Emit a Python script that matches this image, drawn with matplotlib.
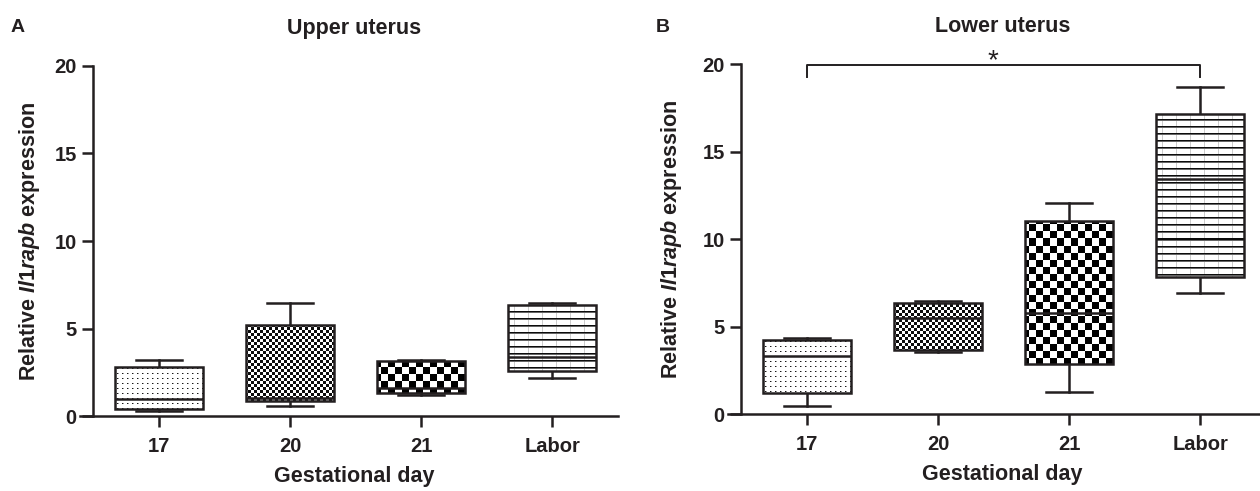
import numpy as np
import matplotlib
matplotlib.use('Agg')
import matplotlib.pyplot as plt

plt.rcParams['font.family'] = ['Liberation Sans', 'DejaVu Sans']
plt.rcParams['mathtext.fontset'] = 'custom'
plt.rcParams['mathtext.it'] = 'Liberation Sans:italic:bold'
plt.rcParams['mathtext.rm'] = 'Liberation Sans:bold'

ink = '#231f20'

# данные
days = ['17', '20', '21', 'Labor']

upper_whislo = [0.30, 0.60, 1.20, 2.19]
upper_q1 = [0.38, 0.86, 1.30, 2.59]
upper_med = [0.97, 1.04, 1.58, 3.35]
upper_q3 = [2.82, 5.20, 3.16, 6.34]
upper_whishi = [3.20, 6.44, 3.20, 6.44]

lower_whislo = [0.50, 3.58, 1.26, 6.95]
lower_q1 = [1.20, 3.68, 2.88, 7.83]
lower_med = [3.35, 5.49, 5.81, 13.45]
lower_q3 = [4.25, 6.38, 11.05, 17.16]
lower_whishi = [4.34, 6.50, 12.06, 18.72]

patterns = ['dots', 'fine', 'coarse', 'lines']


def make_pattern(kind, h, w):
    yy, xx = np.mgrid[0:h, 0:w]
    arr = np.zeros((h, w))
    if kind == 'dots':
        arr[(yy % 5 == 2) & (xx % 5 == 2)] = 0.9
        arr[(yy % 5 == 2) & (xx % 5 == 3)] = 0.4
    elif kind == 'fine':
        arr[((xx // 3 + yy // 3) % 2) == 0] = 0.95
    elif kind == 'coarse':
        arr[((xx // 7 + yy // 7) % 2) == 0] = 1.0
    elif kind == 'lines':
        arr[xx % 14 == 0] = 0.2
        arr[yy % 7 == 0] = 0.95
        arr[yy % 7 == 1] = 0.6
    return arr


def panel(ax, whislo, q1, med, q3, whishi, title, ylab_x):
    stats = []
    for i in range(len(days)):
        stats.append(dict(whislo=whislo[i], q1=q1[i], med=med[i], q3=q3[i],
                          whishi=whishi[i], fliers=[]))
    res = ax.bxp(stats, positions=range(len(days)), widths=0.67, capwidths=0.35,
                 patch_artist=True, showfliers=False,
                 boxprops=dict(facecolor='none', edgecolor=ink, linewidth=1.8),
                 medianprops=dict(color=ink, linewidth=1.8),
                 whiskerprops=dict(color=ink, linewidth=1.8),
                 capprops=dict(color=ink, linewidth=1.8))
    for b in res['boxes']:
        b.set_zorder(3)
    for m in res['medians']:
        m.set_zorder(4)
    ax.set_xlim(-0.6, 3.5)
    ax.set_ylim(0, 20)
    # заливка узором внутри каждого ящика
    w = int(round(ax.bbox.width))
    h = int(round(ax.bbox.height))
    for b, kind in zip(res['boxes'], patterns):
        im = ax.imshow(make_pattern(kind, h, w), cmap='gray_r', vmin=0, vmax=1,
                       extent=[-0.6, 3.5, 0, 20], origin='upper', aspect='auto',
                       interpolation='nearest', zorder=2)
        im.set_clip_path(b)
    ax.set_xlim(-0.6, 3.5)
    ax.set_ylim(0, 20)

    ax.spines['top'].set_visible(False)
    ax.spines['right'].set_visible(False)
    ax.spines['left'].set_position(('data', -0.5))
    for s in ['left', 'bottom']:
        ax.spines[s].set_linewidth(1.8)
        ax.spines[s].set_color(ink)
    ax.set_xticks(range(len(days)))
    ax.set_xticklabels(days)
    ax.set_yticks([0, 5, 10, 15, 20])
    ax.tick_params(axis='both', colors=ink, width=1.8, length=8, labelsize=14.5)
    ax.tick_params(axis='x', pad=7)
    ax.tick_params(axis='y', pad=4)
    for t in ax.get_xticklabels() + ax.get_yticklabels():
        t.set_fontweight('bold')
    ax.set_xlabel('Gestational day', fontsize=15.5, fontweight='bold', color=ink)
    ax.xaxis.set_label_coords(0.51, -0.142)
    ax.set_ylabel(r'Relative $\mathit{Il1rapb}$ expression', fontsize=15.5,
                  fontweight='bold', color=ink)
    ax.yaxis.set_label_coords(ylab_x, 0.5)
    ax.set_title(title, fontsize=15.5, fontweight='bold', color=ink, pad=23, x=0.51)
    return res


fig = plt.figure(figsize=(12.6, 4.91), dpi=100)
axA = fig.add_axes([0.0638, 0.1527, 0.4266, 0.7129])
axB = fig.add_axes([0.578, 0.1562, 0.4266, 0.7129])

panel(axA, upper_whislo, upper_q1, upper_med, upper_q3, upper_whishi, 'Upper uterus', -0.072)
panel(axB, lower_whislo, lower_q1, lower_med, lower_q3, lower_whishi, 'Lower uterus', -0.083)

# скобка значимости 17 vs Labor
axB.plot([0, 0, 3, 3], [19.3, 19.96, 19.96, 19.3], color=ink, linewidth=1.4, clip_on=False)
axB.text(1.42, 19.75, '*', ha='center', va='baseline', fontsize=20, color=ink)

fig.text(0.014, 0.935, 'A', fontsize=14, fontweight='bold', color=ink, va='baseline', ha='center')
fig.text(0.526, 0.935, 'B', fontsize=14, fontweight='bold', color=ink, va='baseline', ha='center')

fig.savefig('out.png', dpi=100)
